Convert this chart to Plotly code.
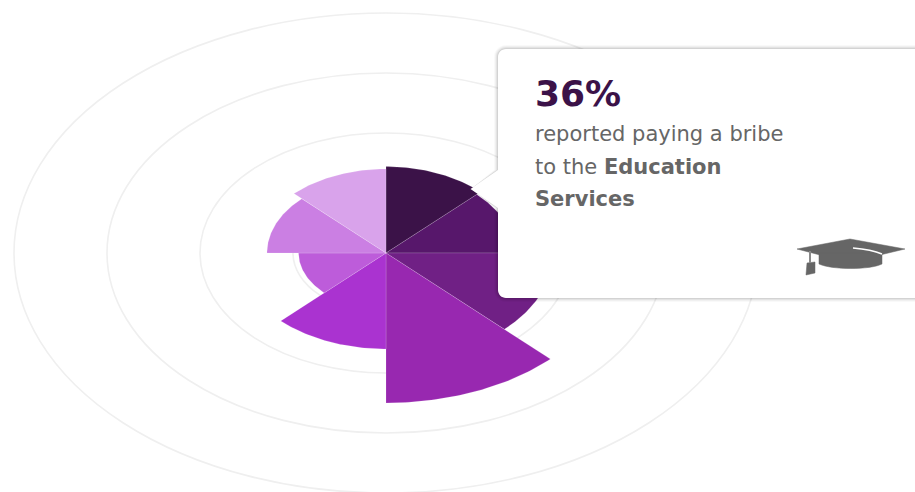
import math
import plotly.graph_objects as go

# Share of respondents per service, clockwise from twelve o'clock
services = ["Education", "Service 2", "Service 3", "Service 4",
            "Service 5", "Service 6", "Service 7", "Service 8"]
shares = [36, 34.5, 45, 62.5, 40, 23.5, 32, 35]
colors = ["#3b1248", "#57176b", "#702085", "#9828b0",
          "#aa33d0", "#bd5cda", "#cb7fe3", "#d9a3eb"]
rings = [25, 50, 75, 100]

W, H = 915, 492
CX, CY = 386, 253
PX_X, PX_Y = 3.72, 2.4   # pixels per percentage point on each axis


def wedge(start_deg, end_deg, r, steps=48):
    xs, ys = [0.0], [0.0]
    for i in range(steps + 1):
        a = math.radians(start_deg + (end_deg - start_deg) * i / steps)
        xs.append(r * math.sin(a))
        ys.append(r * math.cos(a))
    xs.append(0.0)
    ys.append(0.0)
    return xs, ys


def pt(x, y):
    return f"{x / W:.5f},{1 - y / H:.5f}"


def card_path(left, top, right, bottom, rad):
    k = rad * 0.45
    return (f"M{pt(left + rad, top)} L{pt(right, top)} L{pt(right, bottom)} "
            f"L{pt(left + rad, bottom)} C{pt(left + k, bottom)} {pt(left, bottom - k)} {pt(left, bottom - rad)} "
            f"L{pt(left, 208)} L{pt(470.5, 189)} L{pt(left, 170)} L{pt(left, top + rad)} "
            f"C{pt(left, top + k)} {pt(left + k, top)} {pt(left + rad, top)} Z")


fig = go.Figure()
step = 360 / len(shares)
for i, (name, share, color) in enumerate(zip(services, shares, colors)):
    xs, ys = wedge(i * step, (i + 1) * step, share)
    fig.add_trace(go.Scatter(
        x=xs, y=ys, mode="lines", fill="toself", fillcolor=color, name=name,
        line=dict(color="rgba(255,255,255,0.3)", width=0.5),
        hoverinfo="skip", showlegend=False,
    ))

shapes = []
for r in rings:
    shapes.append(dict(type="circle", xref="x", yref="y", x0=-r, x1=r, y0=-r, y1=r,
                       layer="below", line=dict(color="#efefef", width=1.6)))

# Card drop shadow, then the card itself
for grow, alpha in [(4, 0.025), (3, 0.035), (2, 0.05), (1, 0.07)]:
    shapes.append(dict(type="path", xref="paper", yref="paper",
                       path=card_path(498 - grow, 49 - grow, 930, 298 + grow, 8 + grow),
                       fillcolor=f"rgba(0,0,0,{alpha})", line=dict(width=0)))
shapes.append(dict(type="path", xref="paper", yref="paper",
                   path=card_path(498, 49, 930, 298, 8),
                   fillcolor="#ffffff", line=dict(width=0)))

# Mortarboard icon
HAT = "#666666"
board = (f"M{pt(797, 249)} L{pt(850, 239)} L{pt(905, 249)} L{pt(880, 255)} "
         f"L{pt(820, 255)} Z")
cap = (f"M{pt(819, 253)} L{pt(882, 253)} L{pt(882, 264)} "
       f"C{pt(870, 270)} {pt(832, 270)} {pt(819, 264)} Z")
highlight = f"M{pt(853, 248)} C{pt(865, 249)} {pt(875, 251)} {pt(882, 254)}"
cord = f"M{pt(810, 251)} L{pt(810, 263)}"
tassel = (f"M{pt(807, 263)} L{pt(815, 262)} L{pt(815, 273)} L{pt(806, 275)} Z")
for p in (board, cap, tassel):
    shapes.append(dict(type="path", xref="paper", yref="paper", path=p,
                       fillcolor=HAT, line=dict(color=HAT, width=0.5)))
shapes.append(dict(type="path", xref="paper", yref="paper", path=highlight,
                   line=dict(color="#ffffff", width=1.6)))
shapes.append(dict(type="path", xref="paper", yref="paper", path=cord,
                   line=dict(color="#8a8a8a", width=2)))

BODY = dict(family="DejaVu Sans", size=21, color="#666666")


def label(text, y, font):
    return dict(text=text, xref="paper", yref="paper", x=533 / W, y=1 - y / H,
                xanchor="left", yanchor="middle", showarrow=False, align="left",
                font=font, xshift=0)


annotations = [
    label("<b>36%</b>", 94, dict(family="DejaVu Sans", size=36, color="#3b1248")),
    label("reported paying a bribe", 134, BODY),
    label("to the <b>Education</b>", 167, BODY),
    label("<b>Services</b>", 199, BODY),
]

fig.update_layout(
    width=W, height=H, autosize=False,
    margin=dict(l=0, r=0, t=0, b=0),
    paper_bgcolor="#ffffff", plot_bgcolor="#ffffff",
    xaxis=dict(range=[-CX / PX_X, (W - CX) / PX_X], visible=False, fixedrange=True),
    yaxis=dict(range=[-(H - CY) / PX_Y, CY / PX_Y], visible=False, fixedrange=True),
    shapes=shapes, annotations=annotations,
)
fig.write_html("out.html", config=dict(displayModeBar=False))
